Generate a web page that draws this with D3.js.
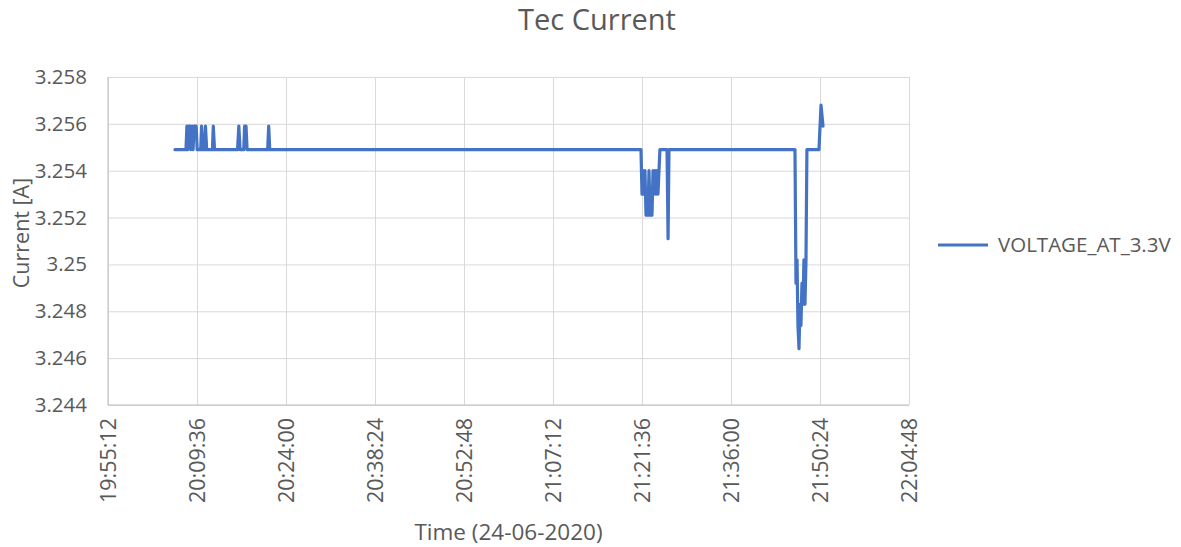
<!DOCTYPE html>
<html>
  <head>
    <title>Tec Current</title>
    <script src="https://cdn.jsdelivr.net/npm/d3@7"></script>
    <style>
      body { margin: 0; background: #fff; }
      text { font-family: "Open Sans", sans-serif; fill: #595959; }
    </style>
  </head>
  <body>
    <svg width="1181" height="547" id="mainsvg"></svg>
    <script>
      // sample times (24-06-2020) and measured current
      const sampleTimes = [
        '20:06:02', '20:07:49', '20:07:58', '20:08:08', '20:08:18', '20:08:28', '20:08:38',
        '20:08:48', '20:08:58', '20:09:08', '20:09:18', '20:09:28', '20:09:38',
        '20:10:12', '20:10:20', '20:10:32', '20:10:50', '20:10:58', '20:11:10',
        '20:12:06', '20:12:14', '20:12:26', '20:16:10', '20:16:22', '20:16:34',
        '20:17:10', '20:17:18', '20:17:32', '20:17:42', '20:21:02', '20:21:12', '20:21:22',
        '21:21:26', '21:21:36', '21:21:46', '21:21:55', '21:22:05', '21:22:15', '21:22:24',
        '21:22:34', '21:22:44', '21:22:54', '21:23:03', '21:23:13', '21:23:23', '21:23:32',
        '21:23:42', '21:23:52', '21:24:01', '21:24:11', '21:24:21', '21:24:30',
        '21:25:39', '21:25:49', '21:25:58',
        '21:46:21', '21:46:31', '21:46:41', '21:46:50', '21:47:00', '21:47:10', '21:47:19',
        '21:47:29', '21:47:39', '21:47:48', '21:47:58', '21:48:08', '21:48:17',
        '21:50:14', '21:50:34', '21:50:53'
      ];
      const currentValues = [
        3.2549, 3.2549, 3.2559, 3.2549, 3.2559, 3.2559, 3.2549,
        3.2559, 3.2549, 3.2559, 3.2559, 3.2559, 3.2549,
        3.2549, 3.2559, 3.2549, 3.2549, 3.2559, 3.2549,
        3.2549, 3.2559, 3.2549, 3.2549, 3.2559, 3.2549,
        3.2549, 3.2559, 3.2559, 3.2549, 3.2549, 3.2559, 3.2549,
        3.2549, 3.2530, 3.2540, 3.2530, 3.2540, 3.2521, 3.2530,
        3.2521, 3.2540, 3.2521, 3.2530, 3.2521, 3.2540, 3.2530,
        3.2540, 3.2530, 3.2540, 3.2530, 3.2540, 3.2549,
        3.2549, 3.2511, 3.2549,
        3.2549, 3.2492, 3.2502, 3.2474, 3.2464, 3.2483, 3.2474,
        3.2492, 3.2483, 3.2502, 3.2483, 3.2502, 3.2549,
        3.2549, 3.2568, 3.2559
      ];
      const xTickLabels = ['19:55:12', '20:09:36', '20:24:00', '20:38:24', '20:52:48',
                           '21:07:12', '21:21:36', '21:36:00', '21:50:24', '22:04:48'];
      const yTicks = [3.244, 3.246, 3.248, 3.25, 3.252, 3.254, 3.256, 3.258];
      const seriesName = 'VOLTAGE_AT_3.3V';

      const svg = d3.select('#mainsvg');
      const width = +svg.attr('width');
      const height = +svg.attr('height');
      const margin = {top: 77, right: 272, bottom: 142, left: 108};
      const innerWidth = width - margin.left - margin.right;
      const innerHeight = height - margin.top - margin.bottom;

      const parseTime = d3.timeParse('%Y-%m-%d %H:%M:%S');
      const toDate = t => parseTime('2020-06-24 ' + t);
      const data = sampleTimes.map((t, i) => ({time: toDate(t), value: currentValues[i]}));
      const xTickDates = xTickLabels.map(toDate);

      const xScale = d3.scaleTime()
        .domain([xTickDates[0], xTickDates[xTickDates.length - 1]])
        .range([0, innerWidth]);
      const yScale = d3.scaleLinear()
        .domain([3.244, 3.258])
        .range([innerHeight, 0]);

      const g = svg.append('g')
        .attr('transform', `translate(${margin.left}, ${margin.top})`)
        .attr('id', 'maingroup');

      // gridlines via axes
      const yAxis = d3.axisLeft(yScale)
        .tickValues(yTicks)
        .tickSize(-innerWidth)
        .tickFormat(d => String(+d.toFixed(3)))
        .tickPadding(21);
      const yAxisGroup = g.append('g').call(yAxis).attr('id', 'yaxis');
      yAxisGroup.select('.domain').remove();
      yAxisGroup.selectAll('.tick line').attr('stroke', '#d9d9d9');
      yAxisGroup.selectAll('.tick text')
        .attr('font-size', 20.5)
        .style('font-family', '"Open Sans", sans-serif')
        .attr('fill', '#595959');

      const xAxis = d3.axisBottom(xScale)
        .tickValues(xTickDates)
        .tickSize(-innerHeight)
        .tickFormat(d3.timeFormat('%H:%M:%S'));
      const xAxisGroup = g.append('g').call(xAxis)
        .attr('transform', `translate(0, ${innerHeight})`)
        .attr('id', 'xaxis');
      xAxisGroup.select('.domain').remove();
      xAxisGroup.selectAll('.tick line').attr('stroke', '#d9d9d9');
      xAxisGroup.selectAll('.tick text')
        .attr('font-size', 21.5)
        .style('font-family', '"Open Sans", sans-serif')
        .attr('fill', '#595959')
        .attr('transform', 'rotate(-90)')
        .attr('text-anchor', 'end')
        .attr('x', -13)
        .attr('y', 0)
        .attr('dy', '0.35em');

      // axis lines
      g.append('line')
        .attr('x1', 0).attr('x2', innerWidth)
        .attr('y1', innerHeight).attr('y2', innerHeight)
        .attr('stroke', '#bfbfbf');
      g.append('line')
        .attr('x1', 0).attr('x2', 0)
        .attr('y1', 0).attr('y2', innerHeight)
        .attr('stroke', '#bfbfbf');

      // series line
      const line = d3.line()
        .x(d => xScale(d.time))
        .y(d => yScale(d.value));
      g.append('path')
        .datum(data)
        .attr('d', line)
        .attr('fill', 'none')
        .attr('stroke', '#4472c4')
        .attr('stroke-width', 3.2)
        .attr('stroke-linejoin', 'round')
        .attr('stroke-linecap', 'round');

      // title and axis titles
      svg.append('text')
        .attr('x', 597).attr('y', 30)
        .attr('text-anchor', 'middle')
        .attr('font-size', 29)
        .text('Tec Current');
      svg.append('text')
        .attr('x', margin.left + innerWidth / 2).attr('y', 540)
        .attr('text-anchor', 'middle')
        .attr('font-size', 22.5)
        .text('Time (24-06-2020)');
      svg.append('text')
        .attr('transform', `translate(29, 233) rotate(-90)`)
        .attr('text-anchor', 'middle')
        .attr('font-size', 21.5)
        .text('Current [A]');

      // legend
      const legend = svg.append('g').attr('transform', 'translate(938, 245)');
      legend.append('line')
        .attr('x1', 0).attr('x2', 50)
        .attr('stroke', '#4472c4').attr('stroke-width', 3.2);
      legend.append('text')
        .attr('x', 60).attr('dy', '0.35em')
        .attr('font-size', 20.5)
        .text(seriesName);
    </script>
  </body>
</html>
